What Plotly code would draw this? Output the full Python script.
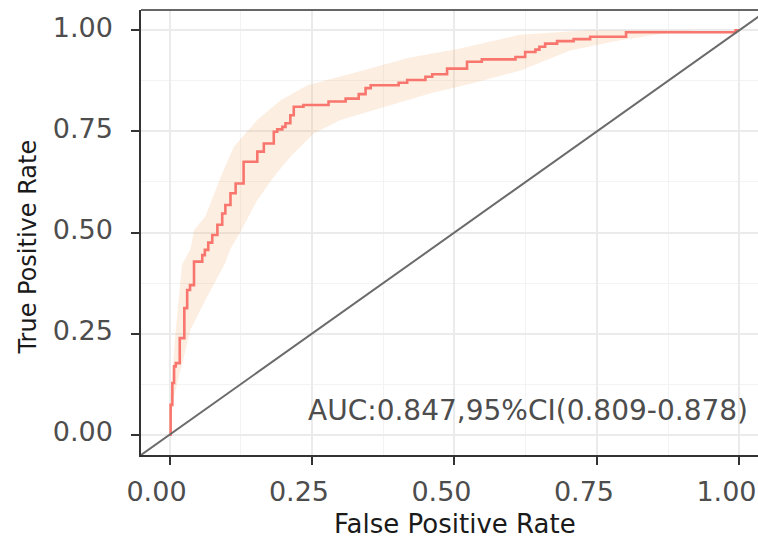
import plotly.graph_objects as go

# ROC step curve (FPR, TPR) – each point is the top of a vertical rise
roc_fpr = [0.0, 0.002, 0.005, 0.008, 0.011, 0.018, 0.026, 0.031, 0.036, 0.043, 0.0575, 0.062,
           0.068, 0.075, 0.084, 0.0925, 0.098, 0.107, 0.116, 0.130, 0.154, 0.1655, 0.183, 0.189,
           0.198, 0.2035, 0.212, 0.218, 0.235, 0.279, 0.309, 0.332, 0.344, 0.353, 0.402, 0.417,
           0.449, 0.461, 0.487, 0.522, 0.548, 0.607, 0.624, 0.642, 0.649, 0.659, 0.680, 0.709,
           0.738, 0.801, 0.993, 1.0]
roc_tpr = [0.0, 0.074, 0.128, 0.169, 0.177, 0.239, 0.313, 0.358, 0.370, 0.428, 0.444, 0.457,
           0.475, 0.494, 0.519, 0.547, 0.568, 0.597, 0.621, 0.675, 0.700, 0.720, 0.749, 0.755,
           0.761, 0.770, 0.790, 0.811, 0.815, 0.824, 0.831, 0.842, 0.857, 0.864, 0.870, 0.877,
           0.885, 0.891, 0.905, 0.922, 0.928, 0.934, 0.946, 0.952, 0.959, 0.967, 0.973, 0.978,
           0.984, 0.995, 1.0, 1.0]

# 95% confidence band boundaries
ci_hi_fpr = [0.0, 0.002, 0.011, 0.022, 0.037, 0.043, 0.063, 0.090, 0.113, 0.154, 0.195, 0.242,
             0.329, 0.420, 0.510, 0.615, 0.732, 1.0]
ci_hi_tpr = [0.0, 0.100, 0.260, 0.420, 0.460, 0.506, 0.540, 0.638, 0.712, 0.778, 0.827, 0.864,
             0.897, 0.932, 0.955, 0.989, 1.0, 1.0]
ci_lo_fpr = [0.0, 0.008, 0.022, 0.037, 0.066, 0.098, 0.107, 0.120, 0.154, 0.183, 0.212, 0.253,
             0.300, 0.358, 0.417, 0.460, 0.528, 0.615, 0.703, 0.790, 0.850, 0.920, 1.0]
ci_lo_tpr = [0.0, 0.095, 0.178, 0.260, 0.341, 0.425, 0.460, 0.490, 0.580, 0.638, 0.687, 0.745,
             0.778, 0.802, 0.827, 0.845, 0.868, 0.900, 0.950, 0.975, 0.988, 1.0, 1.0]

ref_line = [-0.05, 1.05]
tick_vals = [0.0, 0.25, 0.5, 0.75, 1.0]
tick_text = ["0.00", "0.25", "0.50", "0.75", "1.00"]
auc_label = "AUC:0.847,95%CI(0.809-0.878)"

FONT = "DejaVu Sans"
TXT = "#4D4D4D"

fig = go.Figure()
fig.add_trace(go.Scatter(
    x=ci_hi_fpr + ci_lo_fpr[::-1], y=ci_hi_tpr + ci_lo_tpr[::-1],
    fill="toself", fillcolor="rgba(247,170,110,0.2)", line=dict(width=0),
    mode="lines", hoverinfo="skip", showlegend=False))
fig.add_trace(go.Scatter(
    x=roc_fpr, y=roc_tpr, mode="lines", line=dict(color="#F8766D", width=2.6, shape="hv"),
    showlegend=False))
fig.add_trace(go.Scatter(
    x=ref_line, y=ref_line, mode="lines", line=dict(color="#6B6B6B", width=2),
    showlegend=False))

axis_common = dict(
    tickvals=tick_vals, ticktext=tick_text, ticks="outside", ticklen=8, tickwidth=1.5,
    tickcolor="#333333", showline=True, linecolor="#333333", linewidth=1.5,
    showgrid=True, gridcolor="#EBEBEB", gridwidth=1.6, zeroline=False,
    tickfont=dict(family=FONT, size=27, color=TXT), ticklabeloverflow="allow",
    minor=dict(dtick=0.125, tick0=0, showgrid=True, gridcolor="#F3F3F3", gridwidth=1, ticks=""),
)
fig.update_xaxes(range=[-0.05, 1.0325], ticklabelstandoff=4, ticklabelshift=-13, **axis_common)
fig.update_yaxes(range=[-0.05, 1.05], ticklabelstandoff=13, ticklabelshift=-3, **axis_common)

fig.add_shape(type="line", xref="paper", yref="paper", x0=0, x1=1, y0=1, y1=1,
              line=dict(color="#333333", width=1.5))

fig.add_annotation(text=auc_label, x=0.6285, y=0.0605, xref="x", yref="y",
                   showarrow=False, xanchor="center", yanchor="middle",
                   font=dict(family=FONT, size=28, color=TXT))
fig.add_annotation(text="False Positive Rate", x=0.501, xref="x", y=0, yref="paper",
                   yshift=-69, showarrow=False, xanchor="center", yanchor="middle",
                   font=dict(family=FONT, size=26, color="#1A1A1A"))
fig.add_annotation(text="True Positive Rate", x=0, xref="paper", xshift=-112.5,
                   y=0.464, yref="y", textangle=-90, showarrow=False,
                   xanchor="center", yanchor="middle",
                   font=dict(family=FONT, size=24, color="#1A1A1A"))

fig.update_layout(
    width=758, height=539, margin=dict(l=141, r=0, t=10, b=84),
    plot_bgcolor="white", paper_bgcolor="white", showlegend=False,
)
fig.write_html("out.html", config={"displayModeBar": False},
               post_script="document.body.style.margin='0px';document.body.style.overflow='hidden';")
